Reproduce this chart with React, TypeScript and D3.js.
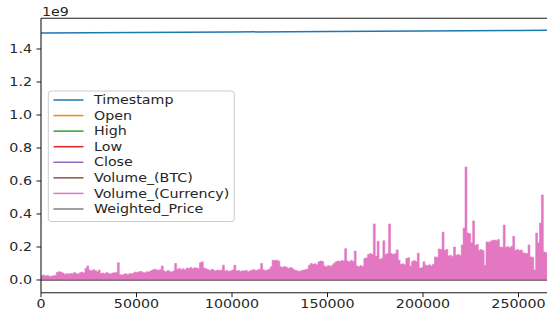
import React from "react";
import * as d3 from "d3";

// ---- data ----
const seriesNames = ["Timestamp", "Open", "High", "Low", "Close", "Volume_(BTC)", "Volume_(Currency)", "Weighted_Price"];
const seriesColors = ["#1f77b4", "#ff7f0e", "#2ca02c", "#d62728", "#9467bd", "#8c564b", "#e377c2", "#7f7f7f"];

// Timestamp sampled every 50000 rows (last at 285000)
const tsIndex = [0, 50000, 100000, 150000, 200000, 250000, 285000];
const tsValues = [1.4970e9, 1.5000e9, 1.5030e9, 1.5060e9, 1.5090e9, 1.5120e9, 1.5141e9];

// price series sampled coarsely (USD) — negligible on this scale
const priceIndex = [0, 50000, 100000, 150000, 200000, 250000, 285000];
const openValues = [2500, 2700, 4300, 4400, 7000, 16000, 11000];
const highValues = [2510, 2710, 4310, 4410, 7010, 16050, 11020];
const lowValues = [2490, 2690, 4290, 4390, 6990, 15950, 10980];
const closeValues = [2505, 2705, 4305, 4405, 7005, 16010, 11005];
const volBtcValues = [8, 10, 12, 14, 20, 18, 15];
const weightedValues = [2502, 2703, 4302, 4403, 7002, 16005, 11002];

// Volume_(Currency), one reading per 1000 rows, in millions
const volCurStep = 1000;
const volCurMillions = [
  25, 30, 24, 28, 22, 22, 26, 28, 45, 50, 48, 42, 35, 38, 36, 40, 38, 45, 40, 36,
  44, 48, 42, 70, 85, 60, 55, 62, 58, 50, 60, 40, 42, 38, 45, 40, 36, 42, 44, 45,
  105, 32, 30, 35, 38, 32, 40, 36, 42, 48, 45, 50, 52, 46, 44, 50, 48, 55, 60, 65,
  62, 58, 64, 85, 55, 50, 58, 52, 48, 55, 100, 65, 70, 62, 68, 60, 72, 70, 75, 68,
  74, 72, 70, 105, 110, 72, 68, 62, 58, 65, 60, 55, 60, 58, 60, 90, 55, 58, 52, 56,
  60, 90, 55, 58, 52, 56, 54, 58, 50, 55, 60, 62, 58, 60, 65, 100, 62, 58, 60, 65,
  80, 120, 118, 120, 115, 80, 75, 82, 78, 70, 75, 72, 62, 58, 55, 52, 58, 60, 62, 66,
  90, 100, 95, 98, 92, 110, 115, 112, 85, 80, 88, 82, 90, 100, 110, 115, 112, 118, 115, 190,
  115, 110, 118, 112, 175, 85, 80, 88, 82, 130, 135, 155, 160, 155, 340, 145, 235, 125, 130, 238,
  155, 160, 340, 160, 155, 160, 182, 120, 95, 98, 92, 130, 135, 85, 112, 118, 110, 162, 72, 75,
  110, 90, 88, 92, 85, 95, 140, 138, 188, 185, 290, 180, 185, 145, 150, 142, 200, 150, 155, 148,
  212, 315, 685, 285, 280, 225, 358, 210, 215, 180, 185, 178, 90, 230, 228, 235, 240, 242, 238, 245,
  200, 198, 333, 198, 202, 195, 205, 265, 180, 185, 178, 182, 165, 162, 160, 212, 140, 138, 60, 285,
  225, 345, 515, 170, 165, 160, 150, 160, 170, 155, 165, 180, 150, 145, 160, 175, 150, 140, 155, 165,
  150, 145, 160, 150, 140, 150,
];

const xTicks = [0, 50000, 100000, 150000, 200000, 250000];
const yTicks = [0, 0.2, 0.4, 0.6, 0.8, 1.0, 1.2, 1.4];

// ---- layout ----
const W = 547;
const H = 313;
const FONT = "DejaVu Sans";
const FS = 12.5;
const SX = 1.14;

export default function App() {
  const x = d3.scaleLinear().domain([0, 50000]).range([41, 136.5]);
  const y = d3.scaleLinear().domain([-0.077e9, 1.586e9]).range([292.7, 18.3]);
  const plotLeft = 41;
  const plotTop = y(1.586e9);
  const plotBottom = y(-0.077e9);

  const line = d3.line<[number, number]>().x((d) => x(d[0])).y((d) => y(d[1]));
  const zip = (idx: number[], vals: number[]) => idx.map((v, i) => [v, vals[i]] as [number, number]);

  const volData = volCurMillions.map((v, i) => [i * volCurStep, v * 1e6] as [number, number]);
  const area = d3
    .area<[number, number]>()
    .x((d) => x(d[0]))
    .y0(y(0))
    .y1((d) => y(d[1]))
    .curve(d3.curveStepAfter);

  const smallSeries = [openValues, highValues, lowValues, closeValues, volBtcValues];

  return (
    <svg width={W} height={H} style={{ position: "absolute", left: 0, top: 0, background: "#fff" }}>
      <defs>
        <clipPath id="plot">
          <rect x={plotLeft} y={plotTop} width={W - plotLeft} height={plotBottom - plotTop} />
        </clipPath>
      </defs>
      <rect x={0} y={0} width={W} height={H} fill="#fff" />
      <g clipPath="url(#plot)">
        <path d={line(zip(tsIndex, tsValues)) || ""} fill="none" stroke={seriesColors[0]} strokeWidth={1.5} />
        {smallSeries.map((vals, k) => (
          <path key={k} d={line(zip(priceIndex, vals)) || ""} fill="none" stroke={seriesColors[k + 1]} strokeWidth={1.5} />
        ))}
        <path d={area(volData) || ""} fill={seriesColors[6]} stroke={seriesColors[6]} strokeWidth={0.6} />
        <path d={line(zip(priceIndex, weightedValues)) || ""} fill="none" stroke={seriesColors[7]} strokeWidth={1.5} />
      </g>
      {/* spines */}
      <line x1={plotLeft} x2={plotLeft} y1={plotTop} y2={plotBottom} stroke="#1a1a1a" strokeWidth={1.1} />
      <line x1={plotLeft} x2={W} y1={plotTop} y2={plotTop} stroke="#1a1a1a" strokeWidth={1.1} />
      <line x1={plotLeft} x2={W} y1={plotBottom} y2={plotBottom} stroke="#1a1a1a" strokeWidth={1.1} />
      {/* y ticks */}
      {yTicks.map((t) => (
        <g key={t}>
          <line x1={plotLeft - 4.5} x2={plotLeft} y1={y(t * 1e9)} y2={y(t * 1e9)} stroke="#1a1a1a" strokeWidth={1} />
          <text
            transform={`translate(${plotLeft - 9},${y(t * 1e9)}) scale(${SX},1)`}
            textAnchor="end"
            dominantBaseline="central"
            fontFamily={FONT}
            fontSize={FS}
            fill="#262626"
          >
            {t.toFixed(1)}
          </text>
        </g>
      ))}
      <text transform={`translate(${plotLeft + 1},16) scale(${SX},1)`} fontFamily={FONT} fontSize={FS} fill="#262626">
        1e9
      </text>
      {/* x ticks */}
      {xTicks.map((t) => (
        <g key={t}>
          <line x1={x(t)} x2={x(t)} y1={plotBottom} y2={plotBottom + 4.5} stroke="#1a1a1a" strokeWidth={1} />
          <text
            transform={`translate(${x(t)},${plotBottom + 11.5}) scale(${SX},1)`}
            textAnchor="middle"
            dominantBaseline="central"
            fontFamily={FONT}
            fontSize={FS}
            fill="#262626"
          >
            {String(t)}
          </text>
        </g>
      ))}
      {/* legend */}
      <rect x={48.3} y={91} width={186} height={130.5} rx={3} fill="#fff" fillOpacity={0.8} stroke="#cccccc" strokeWidth={1} />
      {seriesNames.map((name, i) => {
        const cy = 100 + i * 15.57;
        return (
          <g key={name}>
            <line x1={53.5} x2={83.5} y1={cy} y2={cy} stroke={seriesColors[i]} strokeWidth={1.5} />
            <text
              transform={`translate(94,${cy}) scale(${SX},1)`}
              dominantBaseline="central"
              fontFamily={FONT}
              fontSize={FS}
              fill="#262626"
            >
              {name}
            </text>
          </g>
        );
      })}
    </svg>
  );
}
